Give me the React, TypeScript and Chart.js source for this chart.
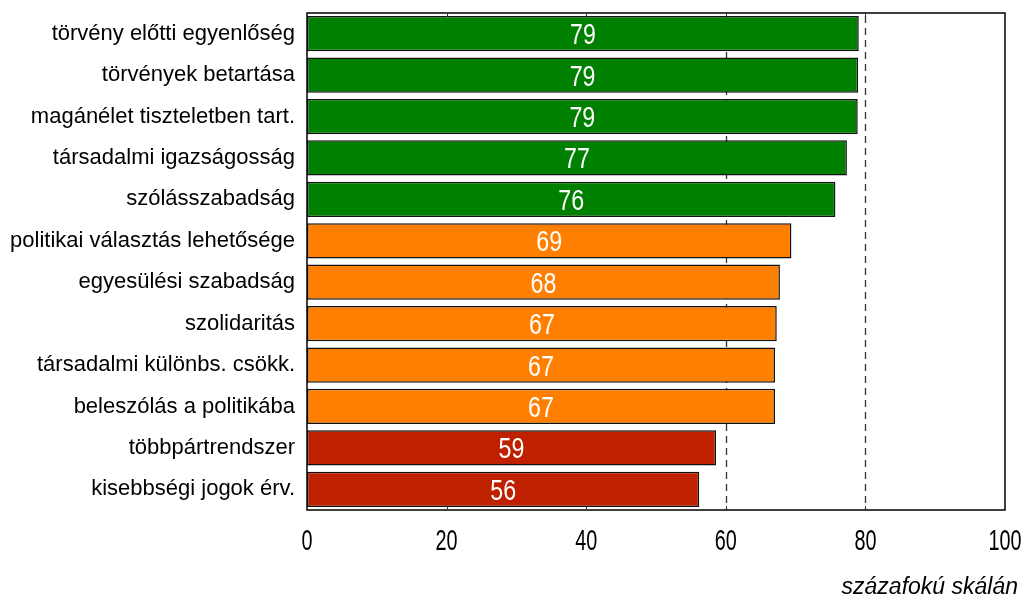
import React, { useEffect, useRef } from "react";
import { Chart, registerables } from "chart.js";

Chart.register(...registerables);

const CATEGORIES = [
  "törvény előtti egyenlőség",
  "törvények betartása",
  "magánélet tiszteletben tart.",
  "társadalmi igazságosság",
  "szólásszabadság",
  "politikai választás lehetősége",
  "egyesülési szabadság",
  "szolidaritás",
  "társadalmi különbs. csökk.",
  "beleszólás a politikába",
  "többpártrendszer",
  "kisebbségi jogok érv.",
];

const VALUES = [79.05, 78.95, 78.9, 77.35, 75.7, 69.4, 67.75, 67.3, 67.05, 67.05, 58.6, 56.2];

const GROUPS = ["high", "high", "high", "high", "high", "mid", "mid", "mid", "mid", "mid", "low", "low"];

const X_TICKS = [0, 20, 40, 60, 80, 100];
const REF_LINES = [60, 80];
const UNIT_LABEL = "százafokú skálán";

const GROUP_COLORS: Record<string, string> = {
  high: "#008000",
  mid: "#FF8000",
  low: "#BF2000",
};

const FONT = '"Liberation Sans", Arial, Helvetica, sans-serif';

function drawNarrow(
  ctx: CanvasRenderingContext2D,
  text: string,
  cx: number,
  baseline: number,
  size: number,
  sx: number,
  color: string
) {
  ctx.save();
  ctx.translate(cx, baseline);
  ctx.scale(sx, 1);
  ctx.font = `${size}px ${FONT}`;
  ctx.fillStyle = color;
  ctx.textAlign = "center";
  ctx.textBaseline = "alphabetic";
  ctx.fillText(text, 0, 0);
  ctx.restore();
}

const overlayPlugin = {
  id: "overlay",
  beforeDatasetsDraw(chart: any) {
    const { ctx, chartArea: a } = chart;
    const x = chart.scales.x;
    ctx.save();
    ctx.strokeStyle = "#333";
    ctx.lineWidth = 1.3;
    ctx.setLineDash([7, 5]);
    REF_LINES.forEach((v) => {
      const px = Math.round(x.getPixelForValue(v)) + 0.5;
      ctx.beginPath();
      ctx.moveTo(px, a.top + 3);
      ctx.lineTo(px, a.bottom);
      ctx.stroke();
    });
    ctx.restore();
  },
  afterDatasetsDraw(chart: any) {
    const { ctx, chartArea: a } = chart;
    const x = chart.scales.x;
    ctx.save();
    // frame
    ctx.strokeStyle = "#000";
    ctx.lineWidth = 1.5;
    ctx.strokeRect(a.left, a.top, a.right - a.left, a.bottom - a.top);
    // inward ticks
    ctx.lineWidth = 1;
    ctx.strokeStyle = "#333";
    X_TICKS.forEach((v) => {
      if (v === X_TICKS[0] || v === X_TICKS[X_TICKS.length - 1]) return;
      const px = Math.round(x.getPixelForValue(v)) + 0.5;
      ctx.beginPath();
      ctx.moveTo(px, a.top);
      ctx.lineTo(px, a.top + 4);
      ctx.moveTo(px, a.bottom - 4);
      ctx.lineTo(px, a.bottom);
      ctx.stroke();
    });
    ctx.restore();

    // x tick labels
    X_TICKS.forEach((v) => {
      drawNarrow(ctx, String(v), x.getPixelForValue(v), a.bottom + 40, 30, 0.66, "#000");
    });

    // bar value labels
    const meta = chart.getDatasetMeta(0);
    meta.data.forEach((bar: any, i: number) => {
      const cx = (bar.x + bar.base) / 2;
      drawNarrow(ctx, String(Math.round(VALUES[i])), cx, bar.y + 10.5, 29, 0.8, "#fff");
    });

    // unit caption
    ctx.save();
    ctx.font = `italic 23px ${FONT}`;
    ctx.fillStyle = "#000";
    ctx.textAlign = "right";
    ctx.textBaseline = "alphabetic";
    ctx.fillText(UNIT_LABEL, 1018, 594);
    ctx.restore();
  },
};

export default function App() {
  const canvasRef = useRef<HTMLCanvasElement | null>(null);

  useEffect(() => {
    if (!canvasRef.current) return;
    const chart = new Chart(canvasRef.current, {
      type: "bar",
      data: {
        labels: CATEGORIES,
        datasets: [
          {
            data: VALUES,
            backgroundColor: GROUPS.map((g) => GROUP_COLORS[g]),
            borderColor: "#111",
            borderWidth: 1.5,
            borderSkipped: false,
            categoryPercentage: 1,
            barPercentage: 0.85,
          },
        ],
      },
      options: {
        indexAxis: "y",
        animation: false,
        responsive: true,
        maintainAspectRatio: false,
        layout: { padding: { left: 0, right: 19, top: 13, bottom: 0 } },
        plugins: {
          legend: { display: false },
          tooltip: { enabled: false },
        },
        scales: {
          x: {
            type: "linear",
            min: 0,
            max: 100,
            grid: { display: false },
            border: { display: false },
            ticks: { display: false, stepSize: 20 },
            afterFit: (scale: any) => {
              scale.height = 88;
              scale.paddingLeft = 0;
              scale.paddingRight = 0;
            },
          },
          y: {
            grid: { display: false, drawTicks: false },
            border: { display: false },
            ticks: {
              padding: 12,
              color: "#000",
              font: { family: FONT, size: 22 },
            },
            afterFit: (scale: any) => {
              scale.width = 307;
              scale.paddingTop = 0;
              scale.paddingBottom = 0;
            },
          },
        },
      },
      plugins: [overlayPlugin],
    });
    return () => chart.destroy();
  }, []);

  return (
    <div style={{ position: "absolute", left: 0, top: 0, width: 1024, height: 598, background: "#fff" }}>
      <canvas ref={canvasRef} />
    </div>
  );
}
